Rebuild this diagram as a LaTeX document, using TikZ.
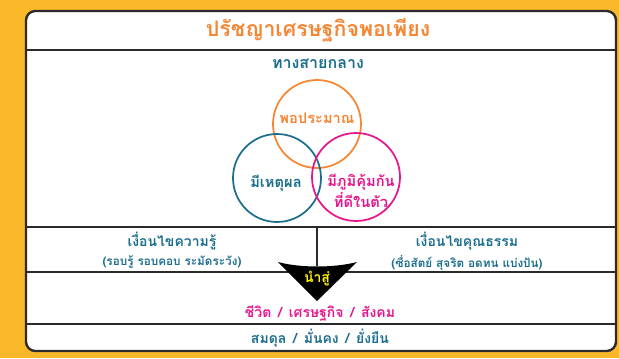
\documentclass[tikz,border=0pt]{standalone}
\usepackage{fontspec}
\newfontfamily\thaifont[Script=Thai]{Loma}
\usetikzlibrary{positioning}
\definecolor{bgorange}{HTML}{FBB829}
\definecolor{titleorange}{HTML}{F58634}
\definecolor{tealblue}{HTML}{1C6E8E}
\definecolor{hotpink}{HTML}{E5168C}
\definecolor{framegray}{HTML}{2B2B2B}
\newcommand{\slashsep}{\hspace{5pt}/\hspace{5pt}}

\begin{document}
\begin{tikzpicture}[x=0.75pt,y=-0.75pt,
txt/.style = {font=\thaifont\bfseries, inner sep=0pt, align=center},
ring/.style = {circle, draw=#1, line width=1.3pt, minimum size=66pt,
               inner sep=0pt},
sep/.style = {draw=framegray, line width=1.6pt},
]
        \fill[bgorange] (0,0) rectangle (619,358);
        \useasboundingbox (0,0) rectangle (619,358);
        \draw[framegray, line width=1.8pt, fill=white, rounded corners=7pt]
             (26,11) rectangle (616,351);
        % separators
        \draw[sep] (27,50) -- (615,50);
        \draw[sep] (27,227) -- (615,227);
        \draw[sep] (27,272) -- (615,272);
        \draw[framegray, line width=0.9pt] (27,324) -- (615,324);
        % title rows
        \node (title) [txt, text=titleorange, font=\thaifont\bfseries\fontsize{16}{19}\selectfont]
              at (318,30) {ปรัชญาเศรษฐกิจพอเพียง};
        \node (middle) [txt, text=tealblue, font=\thaifont\bfseries\fontsize{12}{14}\selectfont]
              at (318,64) {ทางสายกลาง};
        % three rings
        \node (moder) [ring=titleorange] at (317,124) {};
        \node (reason) [ring=tealblue] at (277,178) {};
        \node (immune) [ring=hotpink] at (356,177) {};
        \node (modert) [txt, text=titleorange, font=\thaifont\bfseries\fontsize{11}{13}\selectfont]
              at (317,118) {พอประมาณ};
        \node (reasont) [txt, text=tealblue, font=\thaifont\bfseries\fontsize{11}{13}\selectfont]
              at (276,183) {มีเหตุผล};
        \node (immunet) [txt, text=hotpink, font=\thaifont\bfseries\fontsize{11}{16}\selectfont]
              at (361,191) {มีภูมิคุ้มกัน\\ที่ดีในตัว};
        % conditions
        \node (know) [txt, text=tealblue, font=\thaifont\bfseries\fontsize{10.5}{12}\selectfont]
              at (172,241) {เงื่อนไขความรู้};
        \node (knowsub) [txt, text=tealblue, font=\thaifont\bfseries\fontsize{8.8}{10}\selectfont,
                         below=4pt of know] {(รอบรู้ รอบคอบ ระมัดระวัง)};
        \node (moral) [txt, text=tealblue, font=\thaifont\bfseries\fontsize{10.5}{12}\selectfont]
              at (467,241) {เงื่อนไขคุณธรรม};
        \node (moralsub) [txt, text=tealblue, font=\thaifont\bfseries\fontsize{8.8}{10}\selectfont,
                          below=4pt of moral] {(ซื่อสัตย์ สุจริต อดทน แบ่งปัน)};
        % arrow down
        \coordinate (stem) at (317,228);
        \coordinate (tip) at (317,301);
        \draw[framegray, line width=1.5pt] (stem) -- (317,266);
        \fill[black] (278,262) .. controls (300,268) and (334,268) .. (357,262) -- (tip) -- cycle;
        \node (lead) [txt, text=yellow, font=\thaifont\bfseries\fontsize{10.5}{12}\selectfont]
              at (317,279) {นำสู่};
        % results
        \node (life) [txt, text=hotpink, font=\thaifont\bfseries\fontsize{10.5}{12}\selectfont]
              at (320,313) {ชีวิต\slashsep เศรษฐกิจ\slashsep สังคม};
        \node (stable) [txt, text=tealblue, font=\thaifont\bfseries\fontsize{10.5}{12}\selectfont]
              at (320,338) {สมดุล\slashsep มั่นคง\slashsep ยั่งยืน};
\end{tikzpicture}
\end{document}
